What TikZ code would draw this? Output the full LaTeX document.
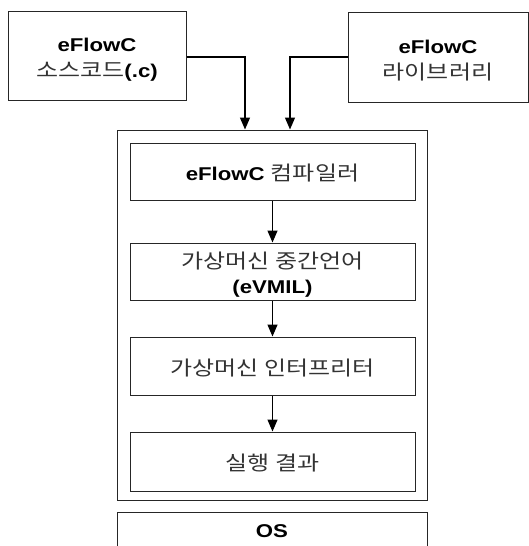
\documentclass[tikz,border=0pt]{standalone}
\usepackage{fontspec}
\setmainfont{Liberation Sans}[FakeStretch=1.2]
\newfontfamily\kr{Noto Sans CJK KR}[Scale=1.08,FakeStretch=1.2]
\newcommand{\ko}[1]{{\kr\color{black!80}#1}}
\newcommand{\lines}[1]{\raisebox{-8pt}[0pt][0pt]{\begin{tabular}{@{}c@{}}#1\end{tabular}}}
\usetikzlibrary{arrows.meta}
\tikzset{
  box/.style={draw=black!85, line width=1pt, rectangle, inner sep=0pt, align=center, font=\fontsize{18.5}{27}\selectfont},
  arr/.style={draw=black, line width=1.3pt, -{Triangle[length=12pt,width=10pt]}},
}
\begin{document}
\begin{tikzpicture}[x=1pt,y=-1pt]
\useasboundingbox (0,0) rectangle (529,546);
\clip (0,0) rectangle (529,546);
\fill[white] (0,0) rectangle (529,546);
\node[box, minimum width=178pt, minimum height=89pt] (src) at (97,55.5) {\lines{\textbf{eFlowC}\\[-1pt]\ko{소스코드}\textbf{(.c)}}};
\node[box, minimum width=180pt, minimum height=90pt] (lib) at (438,57) {\lines{\textbf{eFlowC}\\[-1pt]\ko{라이브러리}}};
\node[draw=black!85, line width=1pt, minimum width=310pt, minimum height=370pt, inner sep=0pt] (outer) at (272,315) {};
\node[box, minimum width=285pt, minimum height=57pt] (comp) at (272.5,171.5) {\lines{\textbf{eFlowC} \ko{컴파일러}}};
\node[box, minimum width=285pt, minimum height=57pt] (vmil) at (272.5,271.5) {\lines{\ko{가상머신 중간언어}\\[-2pt]\textbf{(eVMIL)}}};
\node[box, minimum width=285pt, minimum height=58pt] (interp) at (272.5,366) {\lines{\ko{가상머신 인터프리터}}};
\node[box, minimum width=285pt, minimum height=59pt] (res) at (272.5,461.5) {\lines{\ko{실행 결과}}};
\node[box, minimum width=310pt, minimum height=60pt, anchor=north] (os) at (272,512) {};
\node[font=\fontsize{18.5}{20}\selectfont\bfseries] (ostext) at (272,531) {OS};
\coordinate (a1) at (245,57);
\coordinate (a2) at (290,57);
\draw[arr] (src.east |- a1) -| (a1 |- outer.north);
\draw[arr] (lib.west |- a2) -| (a2 |- outer.north);
\draw[arr] (comp) -- (vmil);
\draw[arr] (vmil) -- (interp);
\draw[arr] (interp) -- (res);
\end{tikzpicture}
\end{document}
